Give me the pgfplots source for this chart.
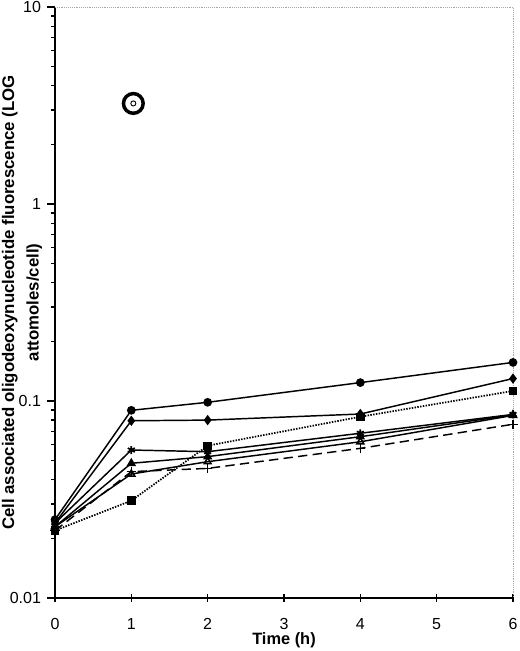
\documentclass[border=0pt]{standalone}
\usepackage{pgfplots}
\pgfplotsset{compat=1.18}
\usepackage{fontspec}
\setmainfont{Liberation Sans}
\begin{document}
\begin{tikzpicture}
\begin{axis}[
  at={(0,0)}, anchor=south west,
  scale only axis, width=343.5pt, height=443.25pt,
  ymode=log, ymin=0.01, ymax=10, xmin=0, xmax=6,
  xtick={0,1,2,3,4,5,6},
  ytick={0.01,0.1,1,10}, yticklabels={0.01,0.1,1,10},
  minor ytick={},
  log ticks with fixed point,
  /pgf/number format/assume math mode=true,
  axis x line*=bottom, axis y line*=left,
  axis line style={-, line width=0.9pt},
  xtick align=center, ytick align=outside,
  major tick length=6pt,
  tick style={line width=0.9pt, black},
  ticklabel style={font=\fontsize{12}{13}\selectfont},
  yticklabel style={xshift=-1pt},
  xticklabel style={yshift=-9pt},
  xlabel={\bfseries Time (h)},
  xlabel style={font=\fontsize{12.3}{14}\selectfont, yshift=5pt},
  ylabel={\bfseries Cell associated oligodeoxynucleotide fluorescence (LOG\\\bfseries attomoles/cell)},
  ylabel style={font=\fontsize{12.6}{18.5}\selectfont, align=center, at={(axis description cs:-0.072,0.5)}, anchor=center},
  every axis plot/.append style={line width=1.1pt, black},
  clip=false,
]
\draw[gray!70, line width=0.4pt, densely dotted] (axis cs:0,10) -- (axis cs:6,10) -- (axis cs:6,0.01);
\addplot[mark=*, mark size=2.7pt] coordinates {(0,0.025) (1,0.0897) (2,0.0985) (4,0.124) (6,0.157)};
\addplot[mark=diamond*, mark size=3pt] coordinates {(0,0.024) (1,0.0794) (2,0.080) (4,0.0859) (6,0.130)};
\addplot[densely dotted, line width=1.3pt, mark=square*, mark size=2.5pt, mark options={solid}] coordinates {(0,0.022) (1,0.0312) (2,0.0593) (4,0.0832) (6,0.1125)};
\addplot[mark=asterisk, mark size=3pt, mark options={line width=1.3pt}] coordinates {(0,0.024) (1,0.0564) (2,0.0553) (4,0.0686) (6,0.0855)};
\addplot[mark=triangle*, mark size=3pt] coordinates {(0,0.023) (1,0.0483) (2,0.0522) (4,0.0659) (6,0.085)};
\addplot[mark=triangle, mark size=3pt] coordinates {(0,0.023) (1,0.0426) (2,0.0492) (4,0.0621) (6,0.0845)};
\addplot[dashed, dash pattern=on 7pt off 4pt, mark=+, mark size=3.5pt, mark options={solid}] coordinates {(0,0.022) (1,0.0438) (2,0.0455) (4,0.0575) (6,0.0762)};
\addplot[only marks, mark=o, mark size=7.4pt, mark options={line width=2.6pt}] coordinates {(1.026,3.24)};
\addplot[only marks, mark=o, mark size=1.9pt, mark options={line width=0.7pt}] coordinates {(1.026,3.24)};
\end{axis}
\pgfresetboundingbox
\path (-41.25pt,-39.75pt) rectangle (348.75pt,448.5pt);
\end{tikzpicture}
\end{document}
